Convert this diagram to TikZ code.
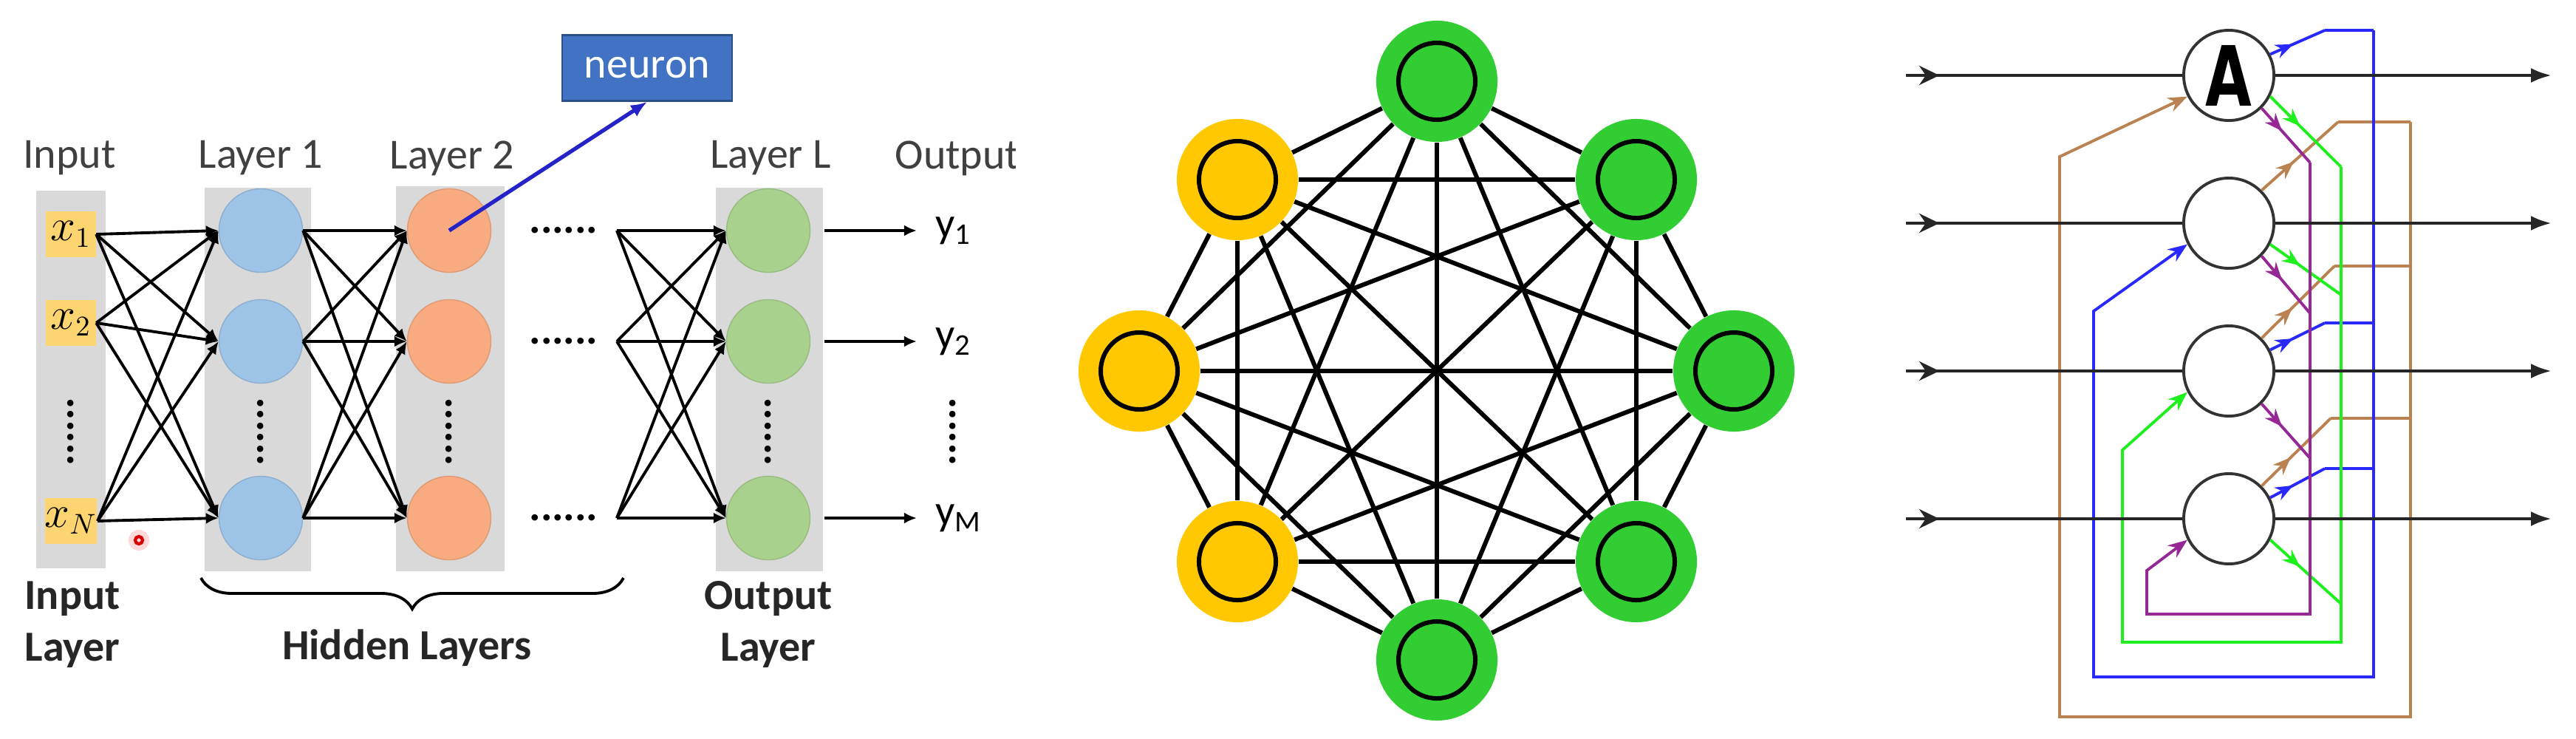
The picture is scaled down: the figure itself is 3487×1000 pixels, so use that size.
\documentclass[tikz,border=0pt]{standalone}
\usepackage{fontspec}
\setmainfont{Carlito}
\newfontfamily\handfont{DejaVu Sans}
\usetikzlibrary{arrows.meta,decorations.pathreplacing,decorations.markings}

\definecolor{colgray}{RGB}{217,217,217}
\definecolor{inbox}{RGB}{252,212,112}
\definecolor{layone}{RGB}{157,195,230}
\definecolor{laytwo}{RGB}{248,171,128}
\definecolor{layL}{RGB}{169,209,142}
\definecolor{neuronblue}{RGB}{66,114,196}
\definecolor{pointer}{RGB}{35,35,200}
\definecolor{txtgray}{RGB}{64,64,64}
\definecolor{hopgreen}{RGB}{50,205,50}
\definecolor{hopyellow}{RGB}{255,200,0}
\definecolor{fbbrown}{RGB}{185,130,80}
\definecolor{fbblue}{RGB}{40,40,255}
\definecolor{fbgreen}{RGB}{30,240,30}
\definecolor{fbpurple}{RGB}{150,40,150}

\begin{document}
\begin{tikzpicture}[x=0.01cm,y=-0.01cm,
    hdr/.style={font=\fontsize{16.5}{18}\selectfont,text=txtgray},
    foot/.style={font=\fontsize{16.5}{19.9}\selectfont\bfseries,text=black!85,align=center},
    colbar/.style={fill=colgray},
    xbox/.style={fill=inbox,minimum width=0.67cm,minimum height=0.61cm,inner sep=0pt,font=\fontsize{16}{16}\selectfont},
    unit/.style={circle,fill=#1,draw=#1!90!black,line width=0.4pt,minimum size=1.13cm,inner sep=0pt},
    link/.style={line width=1.1pt,-{Latex[length=1.7mm,width=1.5mm]}},
    dotrow/.style={font=\fontsize{16.5}{18}\selectfont\bfseries,inner sep=0pt},
    hop/.style={circle,fill=#1,minimum size=1.64cm,inner sep=0pt,
      path picture={\draw[line width=1.7pt] (path picture bounding box.center) circle (0.52cm);}},
    mesh/.style={line width=1.7pt},
    cell/.style={circle,draw=black!80,fill=white,line width=1.1pt,minimum size=1.22cm,inner sep=0pt},
    flow/.style={line width=1.3pt,draw=black!85},
    fbline/.style={line width=1.1pt,draw=#1},
    fbout/.style={fbline=#1,postaction={decorate},
      decoration={markings,mark=at position 0.42 with {\arrow{Stealth[length=2.4mm,width=1.9mm]}}}},
    fbin/.style={fbline=#1,-{Stealth[length=2.6mm,width=2mm]}}
  ]
  \fill[white] (0,0) rectangle (3487,1000);
  \useasboundingbox (0,0) rectangle (3487,1000);

  % feed-forward network
  \fill[colbar] (49,258) rectangle (143,769);
  \fill[colbar] (277,254) rectangle (421,773);
  \fill[colbar] (536,252) rectangle (683,773);
  \fill[colbar] (969,254) rectangle (1114,773);

  \node[hdr] (hin) at (94,214) {Input};
  \node[hdr] (hl1) at (353,214) {Layer 1};
  \node[hdr] (hl2) at (612,214) {Layer 2};
  \node[hdr] (hlL) at (1043,214) {Layer L};
  \begin{scope}
    \clip (0,0) rectangle (1374,1000);
    \node[hdr] (hout) at (1296,214) {Output};
  \end{scope}

  \foreach \n/\r in {1/317,2/437,N/705}
    \node[xbox] (in\n) at (96,\r) {$x_\n$};

  \foreach \r [count=\i] in {312,462,701}{
    \node[unit=layone] (ha\i) at (353,\r) {};
    \node[unit=laytwo] (hb\i) at (608,\r) {};
    \node[unit=layL] (hc\i) at (1040,\r) {};
    \coordinate (fan\i) at (835,\r);
    \node[dotrow] (gap\i) at (763,\r) {......};
  }
  \foreach \x/\nm in {96/a,353/b,608/c,1040/d,1290/e}
    \node[dotrow,rotate=90] (vd\nm) at (\x,584) {......};

  \foreach \i in {1,2,N}
    \foreach \j in {1,2,3}
      \draw[link] (in\i.east) -- (ha\j.west);
  \foreach \i in {1,2,3}
    \foreach \j in {1,2,3}{
      \draw[link] (ha\i.east) -- (hb\j.west);
      \draw[link] (fan\i) -- (hc\j.west);
    }

  \foreach \i/\s in {1/1,2/2,3/M}{
    \node[font=\fontsize{16.5}{18}\selectfont,anchor=west,inner sep=0pt] (yo\i) at (1266,0 |- hc\i) {y\textsubscript{\s}};
    \draw[link,shorten <=0.19cm,shorten >=0.25cm] (hc\i.east) -- (yo\i.west);
  }

  \node[fill=neuronblue,draw=neuronblue!70!black,line width=0.8pt,text=white,
    minimum width=2.3cm,minimum height=0.89cm,font=\fontsize{16.5}{18}\selectfont] (neuron) at (876,92) {neuron};
  \draw[pointer,line width=1.5pt,-{Latex[length=2.2mm,width=1.8mm]}] (hb1.center) -- (neuron.south);

  \fill[red!15] (188,731) circle (0.14cm);
  \draw[red!85!black,line width=1.2pt] (188,731) circle (0.05cm);

  \coordinate (bl) at (272,782);
  \coordinate (brr) at (844,782);
  \draw[line width=1.1pt,decorate,decoration={brace,mirror,amplitude=0.42cm}] (bl) -- (brr);

  \node[foot] (fin) at (98,845) {Input\\Layer};
  \node[foot] (fhid) at (551,877) {Hidden Layers};
  \node[foot] (fout) at (1040,845) {Output\\Layer};

  % complete graph
  \foreach \nm/\px/\py/\c in {1/1945/110/hopgreen,2/2215/243/hopgreen,3/2347/502/hopgreen,
      4/2215/760/hopgreen,5/1945/893/hopgreen,6/1675/760/hopyellow,7/1542/502/hopyellow,8/1675/243/hopyellow}
    \node[hop=\c] (g\nm) at (\px,\py) {};
  \foreach \a in {1,...,7}{
    \pgfmathtruncatemacro\nxt{\a+1}
    \foreach \b in {\nxt,...,8}
      \draw[mesh] (g\a) -- (g\b);
  }

  % recurrent net
  \foreach \r [count=\i] in {102,302,502,702}{
    \node[cell] (u\i) at (3017,\r) {};
    \coordinate (src\i) at (2580,\r);
    \coordinate (dst\i) at (3454,\r);
  }
  \node[font=\handfont\bfseries\fontsize{32}{32}\selectfont,inner sep=0pt] (alab) at (u1) {\scalebox{0.72}[1]{A}};

  \foreach \k/\bx/\by in {2/3165/165,3/3160/360,4/3155/566}{
    \coordinate (bk\k) at (\bx,\by);
    \coordinate (bj\k) at (3263,\by);
    \draw[fbout=fbbrown] (u\k.45) -- (bk\k);
    \draw[fbline=fbbrown] (bk\k) -- (bj\k);
  }
  \coordinate (bc1) at (3263,970);
  \coordinate (bc2) at (2788,970);
  \coordinate (bc3) at (2788,212);
  \draw[fbin=fbbrown] (bj2) -- (bc1) -- (bc2) -- (bc3) -- (u1.207);

  \foreach \k/\by in {1/41,3/437,4/634}{
    \coordinate (lk\k) at (3147,\by);
    \coordinate (lj\k) at (3213,\by);
    \draw[fbout=fbblue] (u\k.27) -- (lk\k);
    \draw[fbline=fbblue] (lk\k) -- (lj\k);
  }
  \coordinate (lc1) at (3213,916);
  \coordinate (lc2) at (2834,916);
  \coordinate (lc3) at (2834,421);
  \draw[fbin=fbblue] (lj1) -- (lc1) -- (lc2) -- (lc3) -- (u2.207);

  \foreach \k/\by in {1/226,2/399,4/817}{
    \coordinate (gk\k) at (3169,\by);
    \draw[fbout=fbgreen] (u\k.333) -- (gk\k);
  }
  \coordinate (gc1) at (3169,869);
  \coordinate (gc2) at (2873,869);
  \coordinate (gc3) at (2873,609);
  \draw[fbin=fbgreen] (gk1) -- (gc1) -- (gc2) -- (gc3) -- (u3.207);

  \foreach \k/\by in {1/220,2/424,3/620}{
    \coordinate (pk\k) at (3127,\by);
    \draw[fbout=fbpurple] (u\k.315) -- (pk\k);
  }
  \coordinate (pc1) at (3127,831);
  \coordinate (pc2) at (2906,831);
  \coordinate (pc3) at (2906,772);
  \draw[fbin=fbpurple] (pk1) -- (pc1) -- (pc2) -- (pc3) -- (u4.207);

  \foreach \i in {1,...,4}{
    \draw[flow,postaction={decorate},
      decoration={markings,mark=at position 0.45cm with {\arrow{Stealth[length=2.7mm,width=2.6mm]}}}] (src\i) -- (u\i.west);
    \draw[flow,-{Latex[length=2.8mm,width=2mm]}] (u\i.east) -- (dst\i);
  }
\end{tikzpicture}
\end{document}
